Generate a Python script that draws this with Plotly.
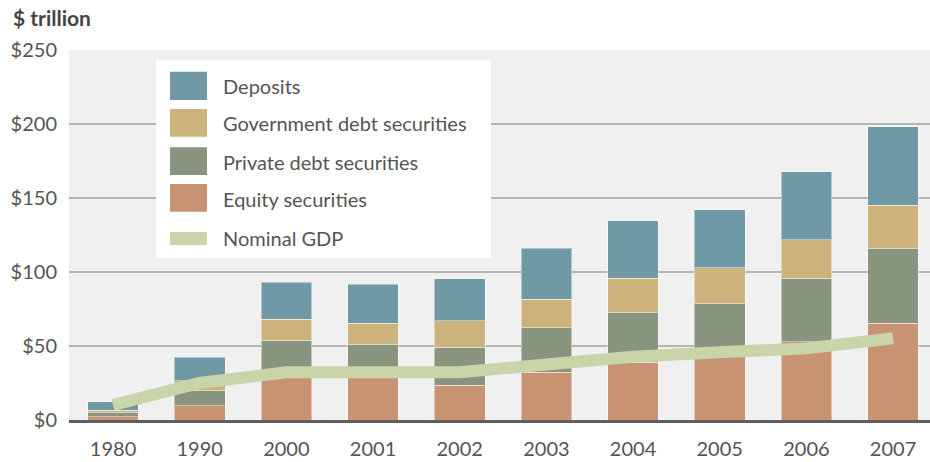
import plotly.graph_objects as go

years = ["1980", "1990", "2000", "2001", "2002", "2003", "2004", "2005", "2006", "2007"]
equity = [2.2, 9.5, 30.0, 29.0, 23.6, 32.2, 39.0, 44.0, 53.0, 65.5]
private_debt = [2.7, 10.3, 23.8, 21.7, 25.7, 30.2, 33.5, 34.6, 42.7, 50.3]
gov_debt = [1.6, 6.8, 14.4, 14.8, 17.6, 19.1, 23.4, 24.3, 26.1, 29.2]
deposits = [5.7, 15.7, 24.8, 26.2, 28.6, 34.5, 38.8, 39.0, 46.0, 53.2]
gdp = [10.1, 25.0, 32.2, 32.4, 32.2, 37.5, 42.8, 45.7, 48.4, 55.2]

y_tick_vals = [0, 50, 100, 150, 200, 250]
y_tick_text = ["$0", "$50", "$100", "$150", "$200", "$250"]

series = [
    ("Equity securities", equity, "#c79373"),
    ("Private debt securities", private_debt, "#8a9580"),
    ("Government debt securities", gov_debt, "#ccb37b"),
    ("Deposits", deposits, "#7099a6"),
]
gdp_color = "#cad4a9"
FONT = "Lato"
TXT = "#555555"
FS = 20

xidx = list(range(len(years)))
fig = go.Figure()
for name, vals, col in series:
    fig.add_trace(go.Bar(
        x=xidx, y=vals, name=name, width=0.585,
        marker=dict(color=col, line=dict(color="rgba(255,255,255,0.45)", width=1)),
        showlegend=False,
    ))
fig.add_trace(go.Scatter(
    x=xidx, y=gdp, name="Nominal GDP", mode="lines",
    line=dict(color=gdp_color, width=12), showlegend=False,
))

# plot area geometry in pixels
L, T, B, W, H = 69, 50, 42, 930, 462
PW = W - L
PH = H - T - B

def px(x):
    return (x - L) / PW

def py(y):
    return (H - B - y) / PH

shapes = []
annotations = []
# custom legend box
shapes.append(dict(type="rect", xref="paper", yref="paper", x0=px(156), x1=px(491),
                   y0=py(258), y1=py(60), fillcolor="white", line=dict(width=0), layer="above"))
legend_items = [
    ("Deposits", "#7099a6", 71.7, 100, 85.7),
    ("Government debt securities", "#ccb37b", 109, 136.7, 123.3),
    ("Private debt securities", "#8a9580", 147.3, 175, 161.7),
    ("Equity securities", "#c79373", 184, 211.7, 199),
]
for name, col, y0, y1, yc in legend_items:
    shapes.append(dict(type="rect", xref="paper", yref="paper", x0=px(170), x1=px(207),
                       y0=py(y1), y1=py(y0), fillcolor=col, line=dict(width=0), layer="above"))
    annotations.append(dict(text=name, xref="paper", yref="paper", x=px(221), y=py(yc),
                            xanchor="left", yanchor="middle", showarrow=False,
                            font=dict(family=FONT, size=FS, color=TXT)))
shapes.append(dict(type="rect", xref="paper", yref="paper", x0=px(170), x1=px(207),
                   y0=py(245), y1=py(232), fillcolor=gdp_color, line=dict(width=0), layer="above"))
annotations.append(dict(text="Nominal GDP", xref="paper", yref="paper", x=px(221), y=py(237.7),
                        xanchor="left", yanchor="middle", showarrow=False,
                        font=dict(family=FONT, size=FS, color=TXT)))

fig.update_layout(
    width=W, height=H,
    margin=dict(l=L, r=0, t=T, b=B),
    barmode="stack",
    paper_bgcolor="white",
    plot_bgcolor="#f0f0f0",
    font=dict(family=FONT, size=FS, color=TXT),
    title=dict(text="<b>$ trillion</b>", xref="container", yref="container",
               x=13 / W, y=1 - 19 / H, xanchor="left", yanchor="middle",
               font=dict(family=FONT, size=21, color="#444444")),
    xaxis=dict(
        tickmode="array", tickvals=xidx, ticktext=years,
        range=[-0.508, -0.508 + PW / 86.67],
        showgrid=False, zeroline=False,
        showline=True, linecolor="#5e5e5e", linewidth=3,
        ticks="", ticklabelstandoff=9,
        tickfont=dict(family=FONT, size=FS, color=TXT),
    ),
    yaxis=dict(
        range=[0, 250], tickmode="array", tickvals=y_tick_vals, ticktext=y_tick_text,
        showgrid=True, gridcolor="#b5b5b7", gridwidth=1.5,
        zeroline=False, showline=False, ticks="", ticklabelstandoff=11,
        tickfont=dict(family=FONT, size=FS, color=TXT),
    ),
    shapes=shapes,
    annotations=annotations,
)

fig.write_html("out.html")
